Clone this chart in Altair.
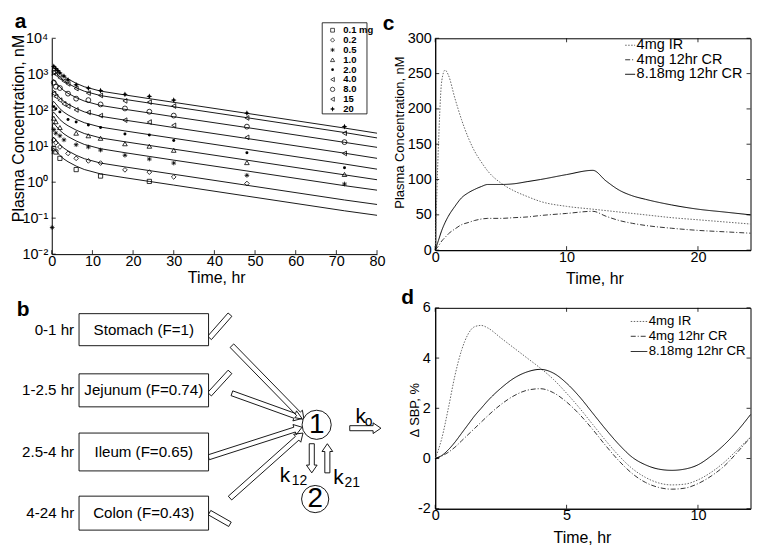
import altair as alt
import pandas as pd
import numpy as np

FONT = "Liberation Sans"

# ======================= DATA =======================
# ---- Panel a: dose groups, fitted lines and observations ----
dose_labels = ["0.1", "0.2", "0.5", "1.0", "2.0", "4.0", "8.0", "15", "20"]
legend_labels = ["0.1 mg", "0.2", "0.5", "1.0", "2.0", "4.0", "8.0", "15", "20"]

fit_time = [0.1, 0.25, 0.5, 1, 2, 3, 4, 6, 8, 12, 18, 24, 30, 48, 72, 80]
fit_01 = [6, 8.5, 8.8, 7.5, 5.5, 4.4, 3.7, 2.8, 2.25, 1.7, 1.33, 1.05, 0.83, 0.41, 0.16, 0.12]
fit_02 = [12, 17, 17.6, 15, 11, 8.8, 7.4, 5.6, 4.5, 3.4, 2.66, 2.1, 1.66, 0.82, 0.32, 0.24]
fit_05 = [30, 42, 44, 37, 27.5, 22, 18.5, 14, 11.2, 8.5, 6.6, 5.2, 4.1, 2.05, 0.8, 0.6]
fit_1 = [60, 85, 88, 75, 55, 44, 37, 28, 22.5, 17, 13.3, 10.5, 8.3, 4.1, 1.6, 1.17]
fit_2 = [120, 170, 175, 150, 110, 88, 74, 56, 45, 34, 26.6, 21, 16.6, 8.2, 3.2, 2.3]
fit_4 = [240, 340, 350, 300, 220, 176, 148, 112, 90, 68, 53, 42, 33, 16.4, 6.4, 4.6]
fit_8 = [480, 680, 700, 600, 440, 350, 296, 224, 180, 136, 106, 84, 66, 33, 12.8, 9.3]
fit_15 = [900, 1250, 1300, 1120, 820, 660, 555, 420, 338, 255, 200, 158, 125, 62, 24, 17]
fit_20 = [1200, 1650, 1750, 1500, 1100, 880, 740, 560, 450, 340, 266, 210, 166, 82, 32, 23]

obs_t_01 = [0.5, 1, 2, 6, 12, 24]
obs_c_01 = [8.5, 6.9, 4.6, 2.24, 1.48, 1.05]
obs_t_02 = [0.5, 1, 2, 4, 6, 9, 12, 18, 24, 30, 48]
obs_c_02 = [15, 12.4, 9.5, 6.3, 4.6, 3.9, 3.4, 2.2, 1.9, 1.4, 0.92]
obs_t_05 = [0.1, 0.5, 1, 2, 3, 6, 9, 12, 18, 24, 30, 48, 72]
obs_c_05 = [0.055, 29, 23, 19.5, 15, 11, 9.5, 7.8, 5.6, 4.4, 3.4, 1.55, 0.89]
obs_t_1 = [0.5, 1, 2, 6, 9, 12, 18, 24, 30, 48, 72]
obs_c_1 = [60, 48, 33, 23, 19.5, 16.6, 11.7, 10, 7.7, 3.5, 1.64]
obs_t_2 = [0.5, 1, 2, 4, 6, 9, 12, 18, 24, 30, 48, 72]
obs_c_2 = [126, 110, 90, 55, 47, 39, 33, 22, 20.6, 14.5, 6.6, 2.5]
obs_t_4 = [0.5, 1, 2, 3, 4, 6, 9, 12, 18, 24, 30, 48, 72]
obs_c_4 = [289, 240, 190, 150, 130, 102, 87, 71, 53, 47, 38, 17.6, 6.3]
obs_t_8 = [0.5, 1, 2, 4, 6, 9, 12, 18, 24, 30, 48, 72]
obs_c_8 = [590, 450, 414, 289, 210, 191, 145, 112, 91, 71, 35, 13]
obs_t_15 = [0.5, 1, 2, 3, 4, 6, 9, 12, 18, 24, 30, 48, 72]
obs_c_15 = [1150, 1000, 800, 650, 540, 400, 300, 258, 182, 168, 131, 61, 23]
obs_t_20 = [0.5, 1, 1.5, 2, 3, 4, 6, 9, 12, 18, 24, 30, 48, 72]
obs_c_20 = [1660, 1435, 1260, 1090, 890, 693, 510, 414, 352, 276, 243, 191, 83, 35]

a_x_ticks = [0, 10, 20, 30, 40, 50, 60, 70, 80]
a_y_ticks = [0.01, 0.1, 1, 10, 100, 1000, 10000]

# ---- Panel c: plasma concentration ----
series = ["4mg IR", "4mg 12hr CR", "8.18mg 12hr CR"]
c_time = [0, 0.25, 0.5, 0.75, 1, 1.5, 2, 2.5, 3, 3.5, 4, 5, 6, 7, 8, 10, 12,
          13, 14, 15, 16, 18, 20, 22, 24]
c_ir = [0, 150, 240, 255, 248, 215, 185, 160, 140, 125, 112, 95, 84, 76, 69, 62, 58,
        56, 54, 52, 50, 46, 43, 40, 37]
c_cr4 = [0, 6, 13, 18, 23, 30, 36, 39, 42, 44, 45, 45, 46, 47, 49, 52, 55,
         48, 42, 38, 35, 31, 28, 26, 24]
c_cr8 = [0, 14, 28, 39, 48, 62, 74, 81, 86, 90, 93, 93, 94, 97, 100, 107, 113,
         98, 85, 77, 72, 64, 58, 54, 50]
c_x_ticks = [0, 10, 20]
c_y_ticks = [0, 50, 100, 150, 200, 250, 300]

# ---- Panel d: change in SBP ----
d_time = [0, 0.25, 0.5, 0.75, 1, 1.25, 1.5, 1.75, 2, 2.5, 3, 3.5, 4, 4.5, 5, 5.5,
          6, 6.5, 7, 7.5, 8, 8.5, 9, 9.5, 10, 10.5, 11, 11.5, 12]
d_ir = [0, 0.8, 2.0, 3.3, 4.3, 4.95, 5.25, 5.3, 5.2, 4.8, 4.4, 4.0, 3.6, 3.15, 2.6, 2.0,
        1.35, 0.7, 0.1, -0.4, -0.75, -0.97, -1.05, -1.02, -0.85, -0.55, -0.15, 0.35, 0.85]
d_cr4 = [0, 0.1, 0.25, 0.45, 0.7, 0.95, 1.2, 1.45, 1.7, 2.15, 2.5, 2.72, 2.78, 2.62, 2.25, 1.75,
         1.15, 0.5, -0.1, -0.6, -0.95, -1.15, -1.22, -1.18, -1.0, -0.7, -0.3, 0.25, 0.85]
d_cr8 = [0, 0.12, 0.35, 0.65, 1.0, 1.35, 1.7, 2.0, 2.3, 2.8, 3.2, 3.45, 3.55, 3.4, 3.0, 2.45,
         1.8, 1.15, 0.55, 0.05, -0.25, -0.42, -0.47, -0.42, -0.25, 0.1, 0.55, 1.1, 1.75]
d_x_ticks = [0, 5, 10]
d_y_ticks = [-2, 0, 2, 4, 6]

# ---- Panel b: compartment diagram ----
box_names = ["Stomach (F=1)", "Jejunum (F=0.74)", "Ileum (F=0.65)", "Colon (F=0.43)"]
box_times = ["0-1 hr", "1-2.5 hr", "2.5-4 hr", "4-24 hr"]
circle_names = ["1", "2"]
rate_names = ["k", "k", "k"]
rate_subs = ["o", "12", "21"]

# ======================= LAYOUT (pixels) =======================
W_A, H_A = 327, 217
W_C, H_C = 317, 213
W_D, H_D = 317, 202
W_B, H_B = 327, 202
COL_GAP, ROW_GAP = 58.5, 54
TICK_FS = 14.5

# legend of panel a (relative to its plot area)
leg_box = (271.9, 316.9, -15.6, 76.0)
leg_sym_x, leg_txt_x, leg_row0, leg_step = 282.3, 293.1, -8.1, 9.91

# diagram geometry (reference-picture pixel frame)
box_left, box_right = 71, 204
box_top = [310, 372, 433, 498]
box_bottom = [343, 406, 472, 533]
time_label_x = 66
circle_x = [315, 313.5]
circle_y = [424.5, 501]
circle_d = [30, 28]
rate_x = [355, 277, 332]
rate_y = [422.5, 483.3, 485]
rate_sub_x = [364.5, 289.5, 343.5]
rate_sub_y = [425.5, 487, 488.5]
arrow_x0 = [205, 205, 205, 228, 228, 204, 226, 310, 326, 349]
arrow_y0 = [335, 393, 515, 343, 392, 458, 500, 444, 474, 428]
arrow_x1 = [226, 226, 226, 302, 300, 300, 301, 310, 326, 381]
arrow_y1 = [311, 370, 527, 419, 418, 427, 433, 474, 444, 428]
arrow_head = [0, 0, 0, 1, 1, 1, 1, 1, 1, 1]

# ======================= STYLES =======================
ASTERISK = "M-1,0L1,0M0,-1L0,1M-0.7,-0.7L0.7,0.7M-0.7,0.7L0.7,-0.7"
STAR = "M0,-1L0.3,-0.3L1,0L0.3,0.3L0,1L-0.3,0.3L-1,0L-0.3,-0.3Z"
dose_shapes = ["square", "diamond", ASTERISK, "triangle-up", "circle",
               "triangle-left", "circle", "triangle-left", STAR]
dose_filled = [False, False, False, False, True, False, False, False, True]
dose_sizes = [18, 22, 22, 22, 9, 22, 24, 22, 34]
series_dash = [[1.5, 1.5], [5, 2, 1, 2], [1, 0]]
series_color = ["#666666", "#333333", "#000000"]


def axis(values, title, tx, ty, tfs, vertical=False, pad=1, expr=None):
    kw = dict(values=values, title=title, titleX=tx, titleY=ty, titleAlign="center",
              titleBaseline="middle", titleFontSize=tfs, titleFontWeight="normal",
              titleFont=FONT, labelFont=FONT, labelFontSize=TICK_FS, labelPadding=pad,
              labelFlush=False, labelOverlap=False, ticks=False, tickSize=0, grid=False,
              domainColor="black", labelColor="black", titleColor="black")
    if vertical:
        kw["titleAngle"] = -90
    if expr:
        kw["labelExpr"] = expr
    return alt.Axis(**kw)


def tick_rules(values, scale, ax, orient, W, H, L=4):
    # inward tick marks; the same axis spec is repeated so that layers merge into one axis
    df = pd.DataFrame({"v": values})
    base = alt.Chart(df).mark_rule(color="black", strokeWidth=0.8)
    if orient == "bottom":
        return base.encode(x=alt.X("v:Q", scale=scale, axis=ax), y=alt.value(H), y2=alt.value(H - L))
    if orient == "top":
        return base.encode(x=alt.X("v:Q", scale=scale, axis=ax), y=alt.value(0), y2=alt.value(L))
    if orient == "left":
        return base.encode(y=alt.Y("v:Q", scale=scale, axis=ax), x=alt.value(0), x2=alt.value(L))
    return base.encode(y=alt.Y("v:Q", scale=scale, axis=ax), x=alt.value(W), x2=alt.value(W - L))


def letter(ch, x, y):
    return alt.Chart(pd.DataFrame({"s": [ch]})).mark_text(
        font=FONT, fontSize=21, fontWeight="bold", align="left", baseline="alphabetic", color="black"
    ).encode(text="s:N", x=alt.value(x), y=alt.value(y))


def manual_legend(names, dashes, colors, xs, xe, xt, ys, fs):
    layers = []
    for i, s in enumerate(names):
        df = pd.DataFrame({"s": [s]})
        layers.append(alt.Chart(df).mark_rule(strokeDash=dashes[i], color=colors[i], strokeWidth=1).encode(
            x=alt.value(xs), x2=alt.value(xe), y=alt.value(ys[i])))
        layers.append(alt.Chart(df).mark_text(font=FONT, fontSize=fs, align="left", baseline="middle",
                                              color="black").encode(
            text="s:N", x=alt.value(xt), y=alt.value(ys[i])))
    return layers


# ======================= PANEL a =======================
fit_lists = [fit_01, fit_02, fit_05, fit_1, fit_2, fit_4, fit_8, fit_15, fit_20]
obs_t = [obs_t_01, obs_t_02, obs_t_05, obs_t_1, obs_t_2, obs_t_4, obs_t_8, obs_t_15, obs_t_20]
obs_c = [obs_c_01, obs_c_02, obs_c_05, obs_c_1, obs_c_2, obs_c_4, obs_c_8, obs_c_15, obs_c_20]
fit_df = pd.concat([pd.DataFrame({"t": fit_time, "c": v, "dose": d}) for d, v in zip(dose_labels, fit_lists)])

xa = alt.Scale(domain=[0, 80], nice=False, zero=False)
ya = alt.Scale(type="log", domain=[0.01, 10000], nice=False)
ax_xa = axis(a_x_ticks, "Time, hr", 165.3, 23.6, 16, pad=0)
sup_expr = ("'10' + ['\u207b\u00b2','\u207b\u00b9','\u2070','\u00b9','\u00b2','\u00b3','\u2074']"
            "[round(log(datum.value)/LN10) + 2]")
ax_ya = axis(a_y_ticks, "Plasma Concentration, nM", -33.7, 90.2, 16, vertical=True, pad=4, expr=sup_expr)

a_layers = [alt.Chart(fit_df).mark_line(color="black", strokeWidth=0.9).encode(
    x=alt.X("t:Q", scale=xa, axis=ax_xa), y=alt.Y("c:Q", scale=ya, axis=ax_ya), detail="dose:N")]
for i, d in enumerate(dose_labels):
    df = pd.DataFrame({"t": obs_t[i], "c": obs_c[i], "dose": d})
    a_layers.append(alt.Chart(df).mark_point(
        shape=dose_shapes[i], filled=dose_filled[i], size=dose_sizes[i], color="black",
        strokeWidth=0.8, opacity=1).encode(
        x=alt.X("t:Q", scale=xa, axis=ax_xa), y=alt.Y("c:Q", scale=ya, axis=ax_ya)))
a_layers.append(tick_rules(a_x_ticks, xa, ax_xa, "bottom", W_A, H_A))
a_layers.append(tick_rules(a_y_ticks, ya, ax_ya, "left", W_A, H_A))
# legend box
a_layers.append(alt.Chart(pd.DataFrame({"k": [0]})).mark_rect(
    fill="white", stroke="black", strokeWidth=0.8).encode(
    x=alt.value(leg_box[0]), x2=alt.value(leg_box[1]), y=alt.value(leg_box[2]), y2=alt.value(leg_box[3])))
for i, lab in enumerate(legend_labels):
    df = pd.DataFrame({"s": [lab]})
    yy = leg_row0 + i * leg_step
    a_layers.append(alt.Chart(df).mark_point(
        shape=dose_shapes[i], filled=dose_filled[i], size=dose_sizes[i] * 0.8, color="black",
        strokeWidth=0.7, opacity=1).encode(x=alt.value(leg_sym_x), y=alt.value(yy)))
    a_layers.append(alt.Chart(df).mark_text(
        font=FONT, fontSize=9.5, fontWeight="bold", align="left", baseline="middle", color="black").encode(
        text="s:N", x=alt.value(leg_txt_x), y=alt.value(yy)))
a_layers.append(letter("a", -37.2, -10.7))
a_layers.append(alt.Chart(pd.DataFrame({"k": [0]})).mark_rule(opacity=0, strokeWidth=0.5).encode(
    x=alt.value(-43.0), x2=alt.value(-42.6), y=alt.value(-28.3), y2=alt.value(-28.2)))

panel_a = alt.layer(*a_layers).properties(width=W_A, height=H_A,
                                          view=alt.ViewBackground(stroke="transparent"))

# ======================= PANEL c =======================
c_df = pd.concat([pd.DataFrame({"t": c_time, "v": v, "series": s}) for s, v in zip(series, [c_ir, c_cr4, c_cr8])])
xc = alt.Scale(domain=[0, 24], nice=False, zero=False)
yc = alt.Scale(domain=[0, 300], nice=False)
ax_xc = axis(c_x_ticks, "Time, hr", 160.1, 28.8, 16, pad=0)
ax_yc = axis(c_y_ticks, "Plasma Concentration, nM", -36.2, 94.3, 13, vertical=True, pad=4)
dash_scale = alt.Scale(domain=series, range=series_dash)
col_scale = alt.Scale(domain=series, range=series_color)
c_lines = alt.Chart(c_df).mark_line(strokeWidth=1, interpolate="monotone").encode(
    x=alt.X("t:Q", scale=xc, axis=ax_xc), y=alt.Y("v:Q", scale=yc, axis=ax_yc),
    strokeDash=alt.StrokeDash("series:N", scale=dash_scale, legend=None),
    color=alt.Color("series:N", scale=col_scale, legend=None))
panel_c = alt.layer(
    c_lines,
    tick_rules(c_x_ticks, xc, ax_xc, "bottom", W_C, H_C),
    tick_rules(c_x_ticks, xc, ax_xc, "top", W_C, H_C),
    tick_rules(c_y_ticks, yc, ax_yc, "left", W_C, H_C),
    tick_rules(c_y_ticks, yc, ax_yc, "right", W_C, H_C),
    *manual_legend(series, series_dash, series_color, 191, 201, 202.5, [7.0, 21.6, 36.2], 14.5),
    letter("c", -52.8, -8.8),
).properties(width=W_C, height=H_C)

# ======================= PANEL d =======================
d_df = pd.concat([pd.DataFrame({"t": d_time, "v": v, "series": s}) for s, v in zip(series, [d_ir, d_cr4, d_cr8])])
xd = alt.Scale(domain=[0, 12], nice=False, zero=False)
yd = alt.Scale(domain=[-2, 6], nice=False, zero=False)
ax_xd = axis(d_x_ticks, "Time, hr", 147.5, 29.3, 16, pad=0)
ax_yd = axis(d_y_ticks, "\u0394 SBP, %", -20.5, 102.4, 13, vertical=True, pad=5,
             expr="datum.value < 0 ? '-' + abs(datum.value) : '' + datum.value")
d_lines = alt.Chart(d_df).mark_line(strokeWidth=1, interpolate="monotone").encode(
    x=alt.X("t:Q", scale=xd, axis=ax_xd), y=alt.Y("v:Q", scale=yd, axis=ax_yd),
    strokeDash=alt.StrokeDash("series:N", scale=dash_scale, legend=None),
    color=alt.Color("series:N", scale=col_scale, legend=None))
panel_d = alt.layer(
    d_lines,
    tick_rules(d_x_ticks, xd, ax_xd, "bottom", W_D, H_D),
    tick_rules(d_x_ticks, xd, ax_xd, "top", W_D, H_D),
    tick_rules(d_y_ticks, yd, ax_yd, "left", W_D, H_D),
    tick_rules(d_y_ticks, yd, ax_yd, "right", W_D, H_D),
    *manual_legend(series, series_dash, series_color, 196.6, 213.2, 214.6, [13.7, 28.6, 43.9], 13.3),
    letter("d", -34.2, -3.9),
).properties(width=W_D, height=H_D)

# ======================= PANEL b =======================
xb = alt.Scale(domain=[43, 377], nice=False, zero=False)
yb = alt.Scale(domain=[304, 511], nice=False, zero=False, reverse=True)


def bx(f):
    return alt.X(f, type="quantitative", scale=xb, axis=None)


def by(f):
    return alt.Y(f, type="quantitative", scale=yb, axis=None)


boxes_df = pd.DataFrame({"name": box_names, "time": box_times,
                         "x1": [box_left] * 4, "x2": [box_right] * 4,
                         "y1": box_top, "y2": box_bottom})
boxes_df["xm"] = (boxes_df["x1"] + boxes_df["x2"]) / 2
boxes_df["ym"] = (boxes_df["y1"] + boxes_df["y2"]) / 2
boxes_df["xt"] = time_label_x

rows = []
for i in range(len(arrow_x0)):
    x0, y0, x1, y1 = arrow_x0[i], arrow_y0[i], arrow_x1[i], arrow_y1[i]
    L = np.hypot(x1 - x0, y1 - y0)
    ux, uy = (x1 - x0) / L, (y1 - y0) / L
    nx, ny = -uy, ux
    w, hw, hl = 2.6, 5.5, 8.0
    if arrow_head[i]:
        hx, hy = x1 - ux * hl, y1 - uy * hl
        pts = [(x0 + nx * w, y0 + ny * w), (hx + nx * w, hy + ny * w), (hx + nx * hw, hy + ny * hw),
               (x1, y1), (hx - nx * hw, hy - ny * hw), (hx - nx * w, hy - ny * w),
               (x0 - nx * w, y0 - ny * w), (x0 + nx * w, y0 + ny * w)]
    else:
        pts = [(x0 + nx * w, y0 + ny * w), (x1 + nx * w, y1 + ny * w), (x1 - nx * w, y1 - ny * w),
               (x0 - nx * w, y0 - ny * w), (x0 + nx * w, y0 + ny * w)]
    for j, (px, py) in enumerate(pts):
        rows.append({"id": i, "o": j, "x": px, "y": py})
arrows_df = pd.DataFrame(rows)

circ_df = pd.DataFrame({"name": circle_names, "x": circle_x, "y": circle_y,
                        "s": [(d * 0.977) ** 2 for d in circle_d]})
rate_df = pd.DataFrame({"k": rate_names, "sub": rate_subs, "x": rate_x, "y": rate_y,
                        "xs": rate_sub_x, "ys": rate_sub_y})
blet_df = pd.DataFrame({"s": ["b"], "x": [7], "y": [312]})

b_rects = alt.Chart(boxes_df).mark_rect(fill="white", stroke="black", strokeWidth=0.9).encode(
    x=bx("x1"), x2="x2", y=by("y1"), y2="y2")
b_names = alt.Chart(boxes_df).mark_text(font=FONT, fontSize=15.2, align="center", baseline="middle",
                                        color="black").encode(x=bx("xm"), y=by("ym"), text="name:N")
b_times = alt.Chart(boxes_df).mark_text(font=FONT, fontSize=15.2, align="right", baseline="middle",
                                        color="black").encode(x=bx("xt"), y=by("ym"), text="time:N")
b_arrows = alt.Chart(arrows_df).mark_line(color="black", strokeWidth=0.9).encode(
    x=bx("x"), y=by("y"), detail="id:N", order="o:Q")
b_circles = alt.Chart(circ_df).mark_point(shape="circle", filled=True, fill="white", stroke="black",
                                          strokeWidth=0.9, opacity=1).encode(
    x=bx("x"), y=by("y"), size=alt.Size("s:Q", scale=None))
b_circ_txt = alt.Chart(circ_df).mark_text(font=FONT, fontSize=28, align="center", baseline="middle",
                                          color="black").encode(x=bx("x"), y=by("y"), text="name:N")
b_k = alt.Chart(rate_df).mark_text(font=FONT, fontSize=21, align="left", baseline="alphabetic",
                                   color="black").encode(x=bx("x"), y=by("y"), text="k:N")
b_ksub = alt.Chart(rate_df).mark_text(font=FONT, fontSize=14, align="left", baseline="alphabetic",
                                      color="black").encode(x=bx("xs"), y=by("ys"), text="sub:N")
b_letter = alt.Chart(blet_df).mark_text(font=FONT, fontSize=21, fontWeight="bold", align="left",
                                        baseline="alphabetic", color="black").encode(
    x=bx("x"), y=by("y"), text="s:N")

panel_b = alt.layer(b_arrows, b_rects, b_names, b_times, b_circles, b_circ_txt, b_k, b_ksub, b_letter
                    ).properties(width=W_B, height=H_B, view=alt.ViewBackground(stroke="transparent"))

# ======================= ASSEMBLY =======================
chart = alt.ConcatChart(
    concat=[panel_a, panel_c, panel_b, panel_d], columns=2,
    spacing={"row": ROW_GAP, "column": COL_GAP}, bounds="flush",
).properties(padding=0).configure(font=FONT).configure_view(
    stroke="black", strokeWidth=1
).configure_axis(
    labelFont=FONT, titleFont=FONT, labelColor="black", titleColor="black", domainColor="black",
    domainWidth=1, ticks=False, tickSize=0, grid=False, titleFontWeight="normal",
    labelFlush=False, labelOverlap=False
)

chart.save("out.html", embed_options={"renderer": "svg", "actions": False})
